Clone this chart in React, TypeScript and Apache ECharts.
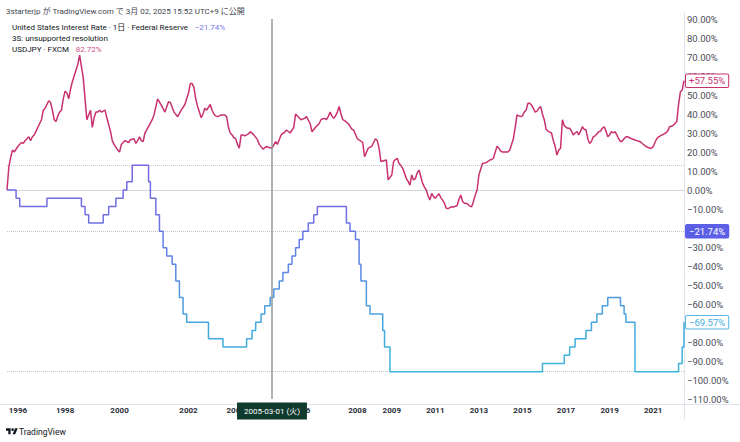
import React, { useEffect, useRef } from 'react';
import * as echarts from 'echarts';

const FONT = "Roboto, 'Noto Sans CJK JP', sans-serif";

// ---- texts ----
const headerText = '3starterjp が TradingView.com で 3月 02, 2025 15:52 UTC+9 に公開';
const rateLegend = 'United States Interest Rate · 1日 · Federal Reserve';
const rateLegendValue = '−21.74%';
const resolutionNote = '3S: unsupported resolution';
const fxLegend = 'USDJPY · FXCM';
const fxLegendValue = '82.72%';
const brandText = 'TradingView';

// ---- USDJPY, % change, one value per month from 1995-08 to 2022-06 ----
const usdjpyStartMonth = '1995-08';
const usdjpyPct = [
  0, 12, 17, 21, 20,
  23, 25, 24.5, 26, 27, 28, 26, 28, 29, 31, 33, 35,
  37, 42, 43, 47, 46, 42, 37, 36, 39, 41, 42, 48,
  52, 51, 48, 53, 57, 60, 63, 66, 71, 59, 37, 42,
  33, 38, 41, 41, 42, 41, 42, 38, 31, 26, 24, 21,
  20, 24, 26, 25, 26.5, 27, 24.5, 26, 28, 26, 25.5, 30,
  31.6, 37, 39.5, 48, 44.7, 41, 46.5, 46, 41, 38.6, 42, 45,
  51, 56, 56, 54, 48, 44, 41, 38, 40, 43, 42, 45,
  42, 40, 39, 38.6, 39, 39.5, 39.5, 38.6, 33, 30, 29, 27.5,
  27, 24, 22, 29, 29, 28.5, 29.5, 30.7, 29, 26.5, 24, 21.5,
  23, 22.5, 22, 25.5, 24, 29, 30.5, 31.6, 30, 33, 40, 39,
  37, 37.7, 38.6, 35, 30.7, 33, 35, 37, 37.5, 37.7, 37, 38.6,
  41, 39, 37.7, 39, 41, 44, 40, 37, 36.5, 35, 32, 31.6,
  27, 25, 17.5, 22, 23, 25, 27, 26, 22, 15, 15.8, 5.3,
  7.9, 15, 16, 16.7, 14, 13, 11.4, 9, 6, 4.5, 2.6, 7.9,
  5.3, 6, 9, 10.5, 7, 3.5, 1.5, 0, -3, -5.3, -1.8, -3.5,
  -4.4, -3, -2, -4, -5.3, -7, -9.6, -9.8, -9.3, -8.8, -9, -8.5,
  -8.3, -5, -2.6, -6, -7, -7, -7.5, -8.5, -8.8, -6, -2.6, 0,
  7.9, 11, 14, 14.2, 14.4, 15, 15.8, 16, 16.7, 20, 23, 22,
  20.5, 20, 20, 20, 20, 21, 24, 27, 33, 39.5, 39, 38.6,
  39, 41, 42, 45.6, 45.6, 44.7, 43, 41, 41.5, 43, 44, 40,
  37, 32, 31, 30.5, 30, 26, 23, 18.4, 21, 22, 37, 34,
  33, 32.5, 32.5, 31, 29, 30, 30.7, 29, 31, 33.3, 32, 31.6,
  27, 24.5, 25.5, 28, 28.5, 29.5, 30.7, 31, 32.5, 33.3, 31, 28,
  29, 30.7, 30, 30.7, 29, 27, 25.4, 25.8, 27, 28, 28, 27.5,
  27, 26.7, 26.3, 26, 25.7, 25.4, 24.5, 23.7, 23, 22.5, 22, 22,
  22.8, 25, 27, 28, 28.5, 29, 29.5, 30, 31, 33.3, 33.5, 34,
  35, 36, 45, 51.7, 52.6, 57.55,
];

// ---- US interest rate, % change, at each change date ----
const rateDates = [
  '1995-08-01', '1995-12-19', '1996-01-31', '1997-03-25', '1998-09-29', '1998-10-15', '1998-11-17',
  '1999-06-30', '1999-08-24', '1999-11-16', '2000-02-02', '2000-03-21', '2000-05-16',
  '2001-01-03', '2001-01-31', '2001-03-20', '2001-04-18', '2001-05-15', '2001-06-27', '2001-08-21',
  '2001-09-17', '2001-10-02', '2001-11-06', '2001-12-11', '2002-11-06', '2003-06-25',
  '2004-06-30', '2004-08-10', '2004-09-21', '2004-11-10', '2004-12-14',
  '2005-02-02', '2005-03-22', '2005-05-03', '2005-06-30', '2005-08-09', '2005-09-20', '2005-11-01', '2005-12-13',
  '2006-01-31', '2006-03-28', '2006-05-10', '2006-06-29', '2007-09-18', '2007-10-31', '2007-12-11',
  '2008-01-22', '2008-01-30', '2008-03-18', '2008-04-30', '2008-10-08', '2008-10-29', '2008-12-16',
  '2015-12-01', '2016-12-01', '2017-03-01', '2017-06-01', '2017-12-01', '2018-03-01', '2018-06-01',
  '2018-09-01', '2018-12-01', '2019-07-01', '2019-09-01', '2019-10-01', '2020-03-01',
  '2022-03-01', '2022-05-01', '2022-06-01',
];
const ratePct = [
  0, -4.35, -8.7, -4.35, -8.7, -13.04, -17.39,
  -13.04, -8.7, -4.35, 0, 4.35, 13.04,
  4.35, -4.35, -13.04, -21.74, -30.43, -34.78, -39.13,
  -47.83, -56.52, -65.22, -69.57, -78.26, -82.61,
  -78.26, -73.91, -69.57, -65.22, -60.87,
  -56.52, -52.17, -47.83, -43.48, -39.13, -34.78, -30.43, -26.09,
  -21.74, -17.39, -13.04, -8.7, -17.39, -21.74, -26.09,
  -39.13, -47.83, -60.87, -65.22, -73.91, -82.61, -95.65,
  -91.3, -86.96, -82.61, -78.26, -73.91, -69.57, -65.22,
  -60.87, -56.52, -60.87, -65.22, -69.57, -95.65,
  -91.3, -82.61, -69.57,
];

const yearLabels = ['1996', '1998', '2000', '2002', '2004', '2006', '2008', '2009', '2011', '2013', '2015', '2017', '2019', '2021'];

const crosshairDate = '2005-03-01';
const crosshairText = '2005-03-01 (火)';

const fxLastPct = 57.55;
const rateLastPct = -69.57;
const rateCurrentPct = -21.74;
const rateHighPct = 13.04;
const rateLowPct = -95.65;

function monthDate(start: string, k: number) {
  const [y, m] = start.split('-').map(Number);
  const t = y * 12 + (m - 1) + k;
  const yy = Math.floor(t / 12);
  const mm = (t % 12) + 1;
  return `${yy}-${String(mm).padStart(2, '0')}-01`;
}

const fxDates = usdjpyPct.map((_, k) => monthDate(usdjpyStartMonth, k));
const categories = Array.from(new Set([...fxDates, ...rateDates])).sort();

const fmtPct = (v: number) => (v < 0 ? '−' : '') + Math.abs(v).toFixed(2) + '%';
const fmtSigned = (v: number) => (v < 0 ? '−' : '+') + Math.abs(v).toFixed(2) + '%';
// axis labels fully hidden behind a value tag in the reference are left out
const coveredByTag = (v: number) =>
  Math.abs(v - rateCurrentPct) < 3 || Math.abs(v - rateLastPct) < 3;

echarts.graphic.registerShape(
  'tvlogo',
  echarts.graphic.extendPath(
    'M14 22H7V11H0V4h14v18zM28 22h-8l7.5-18h8L28 22zM24 8a4 4 0 1 1-8 0a4 4 0 1 1 8 0z',
    {}
  ) as any
);

export default function App() {
  const ref = useRef<HTMLDivElement>(null);

  useEffect(() => {
    if (!ref.current) return;
    const chart = echarts.init(ref.current, undefined, { renderer: 'svg' });

    const tagLabel = (text: string, color: string, bg: string, border: string) => ({
      show: true,
      position: 'end',
      distance: 2,
      formatter: text,
      color,
      backgroundColor: bg,
      borderColor: border,
      borderWidth: 1,
      borderRadius: 1,
      padding: [2, 3, 1, 3],
      fontSize: 9.5,
      fontFamily: FONT,
    });

    const hiddenLine = { color: 'rgba(0,0,0,0)', width: 1, type: 'solid' };

    const option: any = {
      animation: false,
      backgroundColor: '#ffffff',
      grid: { left: 7, right: 56, top: 19, bottom: 43, containLabel: false },
      xAxis: {
        type: 'category',
        data: categories,
        boundaryGap: false,
        axisLine: { show: false },
        axisTick: { show: false },
        splitLine: { show: false },
        axisLabel: {
          interval: (_i: number, v: string) => v.endsWith('-01-01') && yearLabels.includes(v.slice(0, 4)),
          formatter: (v: string) => v.slice(0, 4),
          color: '#2a2e39',
          fontSize: 8,
          fontWeight: 'bold',
          fontFamily: FONT,
          margin: 7,
        },
      },
      yAxis: {
        type: 'value',
        position: 'right',
        min: -110,
        max: 90,
        interval: 10,
        axisLine: { show: false },
        axisTick: { show: false },
        splitLine: { show: false },
        axisLabel: {
          formatter: (v: number) => (coveredByTag(v) ? '' : fmtPct(v)),
          color: '#4a4d57',
          fontSize: 9.5,
          fontFamily: FONT,
          margin: 3,
        },
      },
      visualMap: {
        type: 'continuous',
        show: false,
        seriesIndex: 1,
        dimension: 1,
        min: rateLowPct,
        max: rateHighPct,
        inRange: { color: ['#3cb5dc', '#45a5df', '#5a88e2', '#6f70e5', '#7868e3'] },
      },
      series: [
        {
          name: 'USDJPY',
          type: 'line',
          data: fxDates.map((d, k) => [d, usdjpyPct[k]]),
          symbol: 'none',
          showSymbol: false,
          lineStyle: { color: '#c8316f', width: 1.5 },
          itemStyle: { color: '#c8316f' },
          z: 3,
          markLine: {
            silent: true,
            symbol: ['none', 'none'],
            animation: false,
            data: [
              {
                xAxis: categories.indexOf(crosshairDate),
                lineStyle: { color: '#8f9c98', width: 1.5, type: 'solid' },
                label: { show: false },
              },
              {
                yAxis: fxLastPct,
                lineStyle: hiddenLine,
                label: tagLabel(fmtSigned(fxLastPct), '#c8316f', '#ffffff', '#c8316f'),
              },
            ],
          },
        },
        {
          name: 'United States Interest Rate',
          type: 'line',
          step: 'end',
          data: rateDates.map((d, i) => [d, ratePct[i]]),
          symbol: 'none',
          showSymbol: false,
          lineStyle: { width: 1.5 },
          z: 3,
          markLine: {
            silent: true,
            symbol: ['none', 'none'],
            animation: false,
            z: 1,
            data: [
              { yAxis: 0, lineStyle: { color: '#d3d6dd', width: 1, type: 'solid' }, label: { show: false } },
              { yAxis: rateHighPct, lineStyle: { color: '#c3c6ce', width: 1, type: 'dotted' }, label: { show: false } },
              { yAxis: rateLowPct, lineStyle: { color: '#c3c6ce', width: 1, type: 'dotted' }, label: { show: false } },
              {
                yAxis: rateCurrentPct,
                lineStyle: { color: '#c0c3cc', width: 1, type: 'dotted' },
                label: tagLabel(fmtPct(rateCurrentPct), '#ffffff', '#5a5fe6', '#5a5fe6'),
              },
              {
                yAxis: rateLastPct,
                lineStyle: hiddenLine,
                label: tagLabel(fmtPct(rateLastPct), '#45ade0', '#ffffff', '#55b5e3'),
              },
            ],
          },
        },
      ],
    };

    chart.setOption(option);

    const cx = chart.convertToPixel({ xAxisIndex: 0 }, categories.indexOf(crosshairDate)) as number;

    chart.setOption({
      graphic: {
        elements: [
          { type: 'line', silent: true, shape: { x1: 684.5, y1: 12, x2: 684.5, y2: 420 }, style: { stroke: '#e0e3eb', lineWidth: 1 } },
          { type: 'line', silent: true, shape: { x1: 0, y1: 404.5, x2: 740, y2: 404.5 }, style: { stroke: '#e0e3eb', lineWidth: 1 } },
          {
            type: 'text', x: 6, y: 11, silent: true,
            style: { text: headerText, fill: '#434651', fontSize: 8, fontFamily: FONT, verticalAlign: 'middle' },
          },
          {
            type: 'text', x: 12, y: 27, silent: true,
            style: {
              text: `{a|${rateLegend}}  {b|${rateLegendValue}}`,
              verticalAlign: 'middle',
              rich: {
                a: { fill: '#131722', fontSize: 8, fontFamily: FONT },
                b: { fill: '#7478e6', fontSize: 8, fontFamily: FONT },
              },
            },
          },
          {
            type: 'text', x: 12, y: 38, silent: true,
            style: { text: resolutionNote, fill: '#131722', fontSize: 8, fontFamily: FONT, verticalAlign: 'middle' },
          },
          {
            type: 'text', x: 12, y: 49, silent: true,
            style: {
              text: `{a|${fxLegend}}  {b|${fxLegendValue}}`,
              verticalAlign: 'middle',
              rich: {
                a: { fill: '#131722', fontSize: 8, fontFamily: FONT },
                b: { fill: '#d2508a', fontSize: 8, fontFamily: FONT },
              },
            },
          },
          {
            type: 'text', x: cx, y: 411, z: 100, silent: true,
            style: {
              text: crosshairText, fill: '#ffffff', fontSize: 8, fontFamily: FONT,
              align: 'center', verticalAlign: 'middle',
              backgroundColor: '#0f3a2e', padding: [5, 7, 4, 7],
            },
          },
          { type: 'tvlogo', x: 6, y: 427, scaleX: 0.33, scaleY: 0.33, silent: true, style: { fill: '#131722' } },
          {
            type: 'text', x: 19, y: 432, silent: true,
            style: { text: brandText, fill: '#131722', fontSize: 8.5, fontFamily: FONT, verticalAlign: 'middle' },
          },
        ],
      },
    });

    return () => chart.dispose();
  }, []);

  return <div ref={ref} style={{ width: 740, height: 442, position: 'absolute', left: 0, top: 0, background: '#fff' }} />;
}
